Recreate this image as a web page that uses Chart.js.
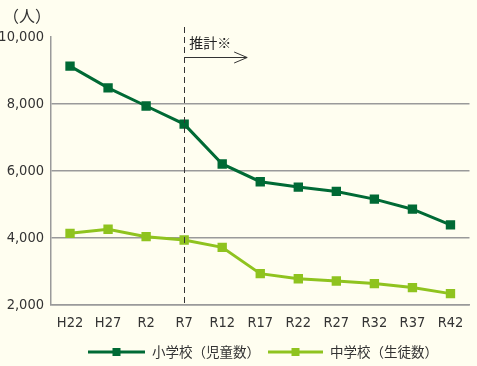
<!DOCTYPE html>
<html>
<head>
<meta charset="utf-8">
<script src="https://cdn.jsdelivr.net/npm/chart.js@4"></script>
<style>
  html, body { margin: 0; padding: 0; background: #fffef0; }
  #wrap { width: 477px; height: 366px; position: relative; }
</style>
</head>
<body>
<div id="wrap"><canvas id="popChart" width="477" height="366"></canvas></div>
<script>
// categories and series
var labels = ["H22", "H27", "R2", "R7", "R12", "R17", "R22", "R27", "R32", "R37", "R42"];
var elementary = [9130, 8480, 7940, 7400, 6210, 5680, 5520, 5390, 5160, 4860, 4390];
var juniorHigh = [4140, 4260, 4040, 3940, 3720, 2935, 2785, 2715, 2640, 2520, 2340];
var yTicks = [2000, 4000, 6000, 8000, 10000];
var seriesNames = ["小学校（児童数）", "中学校（生徒数）"];
var estimateFrom = "R7";
var estimateText = "推計※";

var darkGreen = "#006a35";
var lightGreen = "#8fc31f";
var numFont = "'Liberation Sans Narrow', 'DejaVu Sans Condensed', sans-serif";
var jpFont = "'Noto Sans CJK JP', sans-serif";

// dashed line, arrow, unit label and legend
var extras = {
    id: "extras",
    afterDraw: function (chart) {
        var ctx = chart.ctx;
        var area = chart.chartArea;
        var x = chart.scales.x.getPixelForValue(labels.indexOf(estimateFrom));
        ctx.save();
        ctx.strokeStyle = "#333";
        ctx.lineWidth = 1;
        ctx.setLineDash([6, 4]);
        ctx.beginPath();
        ctx.moveTo(Math.round(x) + 0.5, 27);
        ctx.lineTo(Math.round(x) + 0.5, area.bottom);
        ctx.stroke();
        ctx.setLineDash([]);

        // arrow
        ctx.beginPath();
        ctx.moveTo(Math.round(x), 57.5);
        ctx.lineTo(x + 63, 57.5);
        ctx.moveTo(x + 50, 52);
        ctx.lineTo(x + 63, 57.5);
        ctx.lineTo(x + 50, 63);
        ctx.stroke();

        ctx.fillStyle = "#222";
        ctx.font = "14px " + jpFont;
        ctx.textBaseline = "middle";
        ctx.textAlign = "left";
        ctx.fillText(estimateText, x + 5, 43);

        ctx.fillStyle = "#333";
        ctx.font = "16px " + jpFont;
        ctx.fillText("（人）", 3, 16);

        // legend
        var items = [
            { name: seriesNames[0], color: darkGreen, x0: 88, x1: 145 },
            { name: seriesNames[1], color: lightGreen, x0: 268, x1: 323 }
        ];
        var ly = 352;
        items.forEach(function (it) {
            ctx.strokeStyle = it.color;
            ctx.lineWidth = 3;
            ctx.beginPath();
            ctx.moveTo(it.x0, ly);
            ctx.lineTo(it.x1, ly);
            ctx.stroke();
            ctx.fillStyle = it.color;
            var mx = (it.x0 + it.x1) / 2;
            ctx.fillRect(mx - 4, ly - 4, 8, 8);
            ctx.fillStyle = "#333";
            ctx.font = "13.5px " + jpFont;
            ctx.fillText(it.name, it.x1 + 7, ly);
        });
        ctx.restore();
    }
};

var chart = new Chart(document.getElementById("popChart"), {
    type: "line",
    data: {
        labels: labels,
        datasets: [
            {
                label: seriesNames[0],
                data: elementary,
                borderColor: darkGreen,
                backgroundColor: darkGreen,
                borderWidth: 3,
                pointStyle: "rect",
                pointRadius: 4.5,
                pointHoverRadius: 4.5,
                tension: 0
            },
            {
                label: seriesNames[1],
                data: juniorHigh,
                borderColor: lightGreen,
                backgroundColor: lightGreen,
                borderWidth: 3,
                pointStyle: "rect",
                pointRadius: 4.5,
                pointHoverRadius: 4.5,
                tension: 0
            }
        ]
    },
    options: {
        responsive: false,
        animation: false,
        layout: { padding: { top: 37, right: 2, left: 0, bottom: 0 } },
        plugins: {
            legend: { display: false },
            tooltip: { enabled: false }
        },
        scales: {
            x: {
                offset: true,
                grid: { display: false, drawTicks: false },
                border: { display: true, color: "#9a9a9a", width: 1.5 },
                ticks: {
                    color: "#333",
                    padding: 10,
                    font: { family: numFont, size: 14.5 },
                    maxRotation: 0
                },
                afterFit: function (scale) { scale.height = 61; }
            },
            y: {
                min: 2000,
                max: 10000,
                afterBuildTicks: function (scale) {
                    scale.ticks = yTicks.map(function (v) { return { value: v }; });
                },
                grid: {
                    drawTicks: false,
                    lineWidth: 1.5,
                    color: function (c) {
                        return c.tick && c.tick.value === 10000 ? "rgba(0,0,0,0)" : "#9a9a9a";
                    }
                },
                border: { display: true, color: "#9a9a9a", width: 1.5 },
                ticks: {
                    color: "#333",
                    padding: 7,
                    font: { family: numFont, size: 14.5 },
                    callback: function (v) { return v.toLocaleString("en-US"); }
                },
                afterFit: function (scale) { scale.width = 51; }
            }
        }
    },
    plugins: [extras]
});
</script>
</body>
</html>
